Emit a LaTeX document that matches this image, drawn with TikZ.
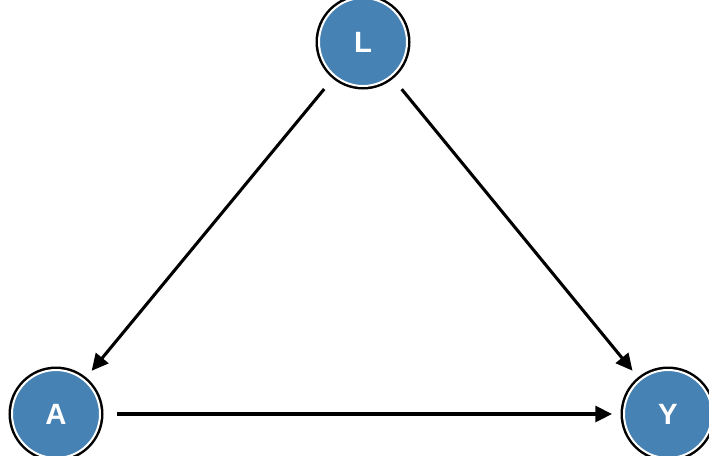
\documentclass[tikz,border=0pt]{standalone}
\usepackage{fontspec}
\setmainfont{Liberation Sans}
\usetikzlibrary{arrows.meta}
\definecolor{SteelBlue}{RGB}{70,130,180}
\tikzset{
  var/.style={circle,fill=SteelBlue,draw=white,line width=1.5pt,
    preaction={draw=black,line width=5.25pt},
    minimum size=66pt,inner sep=0pt,outer sep=0pt,
    text=white,font=\fontsize{22}{22}\selectfont\bfseries},
  arrow/.style={-{Triangle[length=12.5pt,width=12pt]},line width=2.3pt,black,
    shorten <=12.75pt,shorten >=9pt}
}
\begin{document}
\begin{tikzpicture}[x=0.75pt,y=-0.75pt]
  \useasboundingbox (0,0) rectangle (709,455);
  \node[var] (L) at (363,42) {L};
  \node[var] (A) at (56,414) {A};
  \node[var] (Y) at (668,414) {Y};
  \draw[arrow] (L) -- (A);
  \draw[arrow] (L) -- (Y);
  \draw[arrow] (A) -- (Y);
\end{tikzpicture}
\end{document}
